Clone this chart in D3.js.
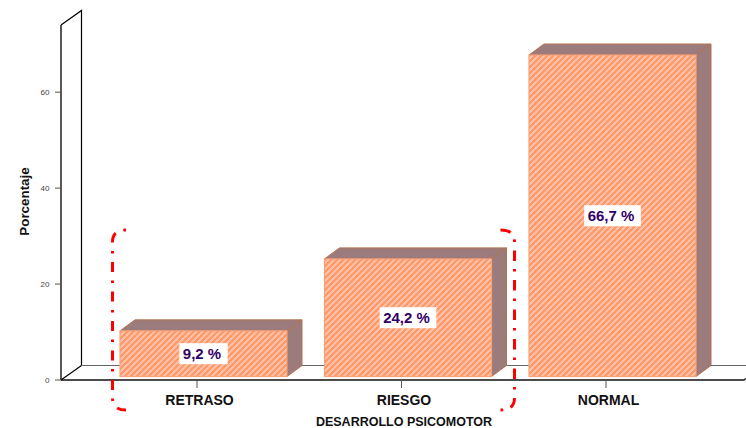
<!DOCTYPE html>
<html><head><meta charset="utf-8">
<script src="https://cdn.jsdelivr.net/npm/d3@7"></script>
<style>html,body{margin:0;padding:0;background:#fff}svg{display:block}text{font-family:"Liberation Sans",Arial,sans-serif}</style>
</head><body><svg id="c" width="746" height="428"></svg>
<script>
const categories = ["RETRASO","RIESGO","NORMAL"];
const values = [9.2,24.2,66.7];
const valueLabels = ["9,2 %","24,2 %","66,7 %"];
const yTicks = [0,20,40,60];
const yMax = 74;
const xTitle = "DESARROLLO PSICOMOTOR";
const yTitle = "Porcentaje";

const svg = d3.select("#c");
const dx = 20.5, dy = -14.5;      // wall depth
const bdx = 15, bdy = -11;        // bar depth
const y = d3.scaleLinear().domain([0,yMax]).range([380,25]);
const x = d3.scaleBand().domain(categories).range([99.55,716.45]).paddingInner(0.1834).paddingOuter(0.1);
const axisL = 61, axisR = 744;

const defs = svg.append("defs");
const pat = defs.append("pattern").attr("id","hatch").attr("patternUnits","userSpaceOnUse")
  .attr("width",6).attr("height",6);
pat.append("rect").attr("width",6).attr("height",6).attr("fill","#ff9966");
pat.append("path").attr("d","M0 6L6 0M-1 1L1 -1M5 7L7 5").attr("stroke","#ffbfa8").attr("stroke-width",1.9)
  .attr("shape-rendering","crispEdges");

// walls
svg.append("path").attr("fill","none").attr("stroke","#000").attr("stroke-width",1.2)
  .attr("d",d3.line()([[axisL,y(yMax)],[axisL+dx,y(yMax)+dy],[axisL+dx,y(0)+dy]]));
svg.append("line").attr("x1",axisL+dx).attr("x2",746).attr("y1",y(0)+dy).attr("y2",y(0)+dy)
  .attr("stroke","#666").attr("stroke-width",1.2);
svg.append("line").attr("x1",axisL).attr("x2",axisL+dx).attr("y1",y(0)).attr("y2",y(0)+dy)
  .attr("stroke","#000").attr("stroke-width",1.2);
svg.append("line").attr("x1",axisL).attr("x2",axisL).attr("y1",y(yMax)).attr("y2",y(0))
  .attr("stroke","#111").attr("stroke-width",1.4);
svg.append("path").attr("fill","none").attr("stroke","#111").attr("stroke-width",1.4)
  .attr("d",d3.line()([[axisL,y(0)],[axisR,y(0)],[axisR+2,y(0)-1.5]]));

// y ticks
const yt = svg.append("g").selectAll("g").data(yTicks).join("g");
yt.append("line").attr("x1",55).attr("x2",axisL).attr("y1",d=>y(d)).attr("y2",d=>y(d)).attr("stroke","#555");
yt.append("text").attr("x",49.5).attr("y",d=>y(d)+3).attr("text-anchor","end")
  .attr("font-size",8).attr("fill","#444").text(d=>d);

// bars
const base = y(0)-3.5;
const g = svg.append("g").selectAll("g").data(categories).join("g");
const bx = c=>x(c), bw = x.bandwidth();
const barTop = (c,i)=>y(values[i])-5;
const edge = "#b5714f", sideFill = "#9b7b7b";
g.append("path").attr("fill",sideFill).attr("stroke",edge).attr("stroke-width",1)
  .attr("d",(c,i)=>d3.line()([[bx(c),barTop(c,i)],[bx(c)+bdx,barTop(c,i)+bdy],[bx(c)+bw+bdx,barTop(c,i)+bdy],[bx(c)+bw,barTop(c,i)]])+"Z");
g.append("path").attr("fill",sideFill).attr("stroke",edge).attr("stroke-width",1)
  .attr("d",(c,i)=>d3.line()([[bx(c)+bw,barTop(c,i)],[bx(c)+bw+bdx,barTop(c,i)+bdy],[bx(c)+bw+bdx,base+bdy],[bx(c)+bw,base]])+"Z");
g.append("rect").attr("x",bx).attr("width",bw).attr("y",barTop).attr("height",(c,i)=>base-barTop(c,i))
  .attr("fill","url(#hatch)").attr("stroke","#f5a27a").attr("stroke-width",1.2);

// value labels
g.each(function(c,i){
  const sel = d3.select(this), cx = bx(c)+bw/2, cy = (barTop(c,i)+base)/2;
  const t = sel.append("text").attr("x",cx-1.5).attr("y",cy+5).attr("text-anchor","middle")
    .attr("font-size",15).attr("font-weight","bold").attr("fill","#330066").text(valueLabels[i]);
  const w = t.node().getComputedTextLength();
  sel.insert("rect","text").attr("x",cx-w/2-5).attr("y",cy-10.5).attr("width",w+10).attr("height",21).attr("fill","#fff");
});

// x ticks and labels
const tickX = c=>x(c)+bw/2-6.5;
const xt = svg.append("g").selectAll("g").data(categories).join("g");
xt.append("line").attr("x1",tickX).attr("x2",tickX).attr("y1",y(0)).attr("y2",388).attr("stroke","#555");
xt.append("text").attr("x",c=>tickX(c)+2.5).attr("y",405).attr("text-anchor","middle")
  .attr("font-size",14).attr("font-weight","bold").attr("fill","#111").text(c=>c);

// titles
svg.append("text").attr("x",404).attr("y",425.5).attr("text-anchor","middle")
  .attr("font-size",12.5).attr("font-weight","bold").attr("fill","#111").text(xTitle);
svg.append("text").attr("transform","translate(29,201.5) rotate(-90)").attr("text-anchor","middle")
  .attr("font-size",13.4).attr("font-weight","bold").attr("fill","#111").text(yTitle);

// red brackets
const red = (d,dash)=>svg.append("path").attr("d",d).attr("fill","none").attr("stroke","#ff0000")
  .attr("stroke-width",3).attr("stroke-dasharray",dash);
const bracket = (xEnd,xLine)=>{
  const p = d3.path();
  p.moveTo(xEnd,230); p.quadraticCurveTo(xLine,230,xLine,242);
  p.lineTo(xLine,398); p.quadraticCurveTo(xLine,410,xEnd,410);
  return p.toString();
};
red(bracket(126,112.5),"2.5 8.5 10 8.5");
red(bracket(500.5,514.5),"10.5 8 2.5 8.5");
</script></body></html>
